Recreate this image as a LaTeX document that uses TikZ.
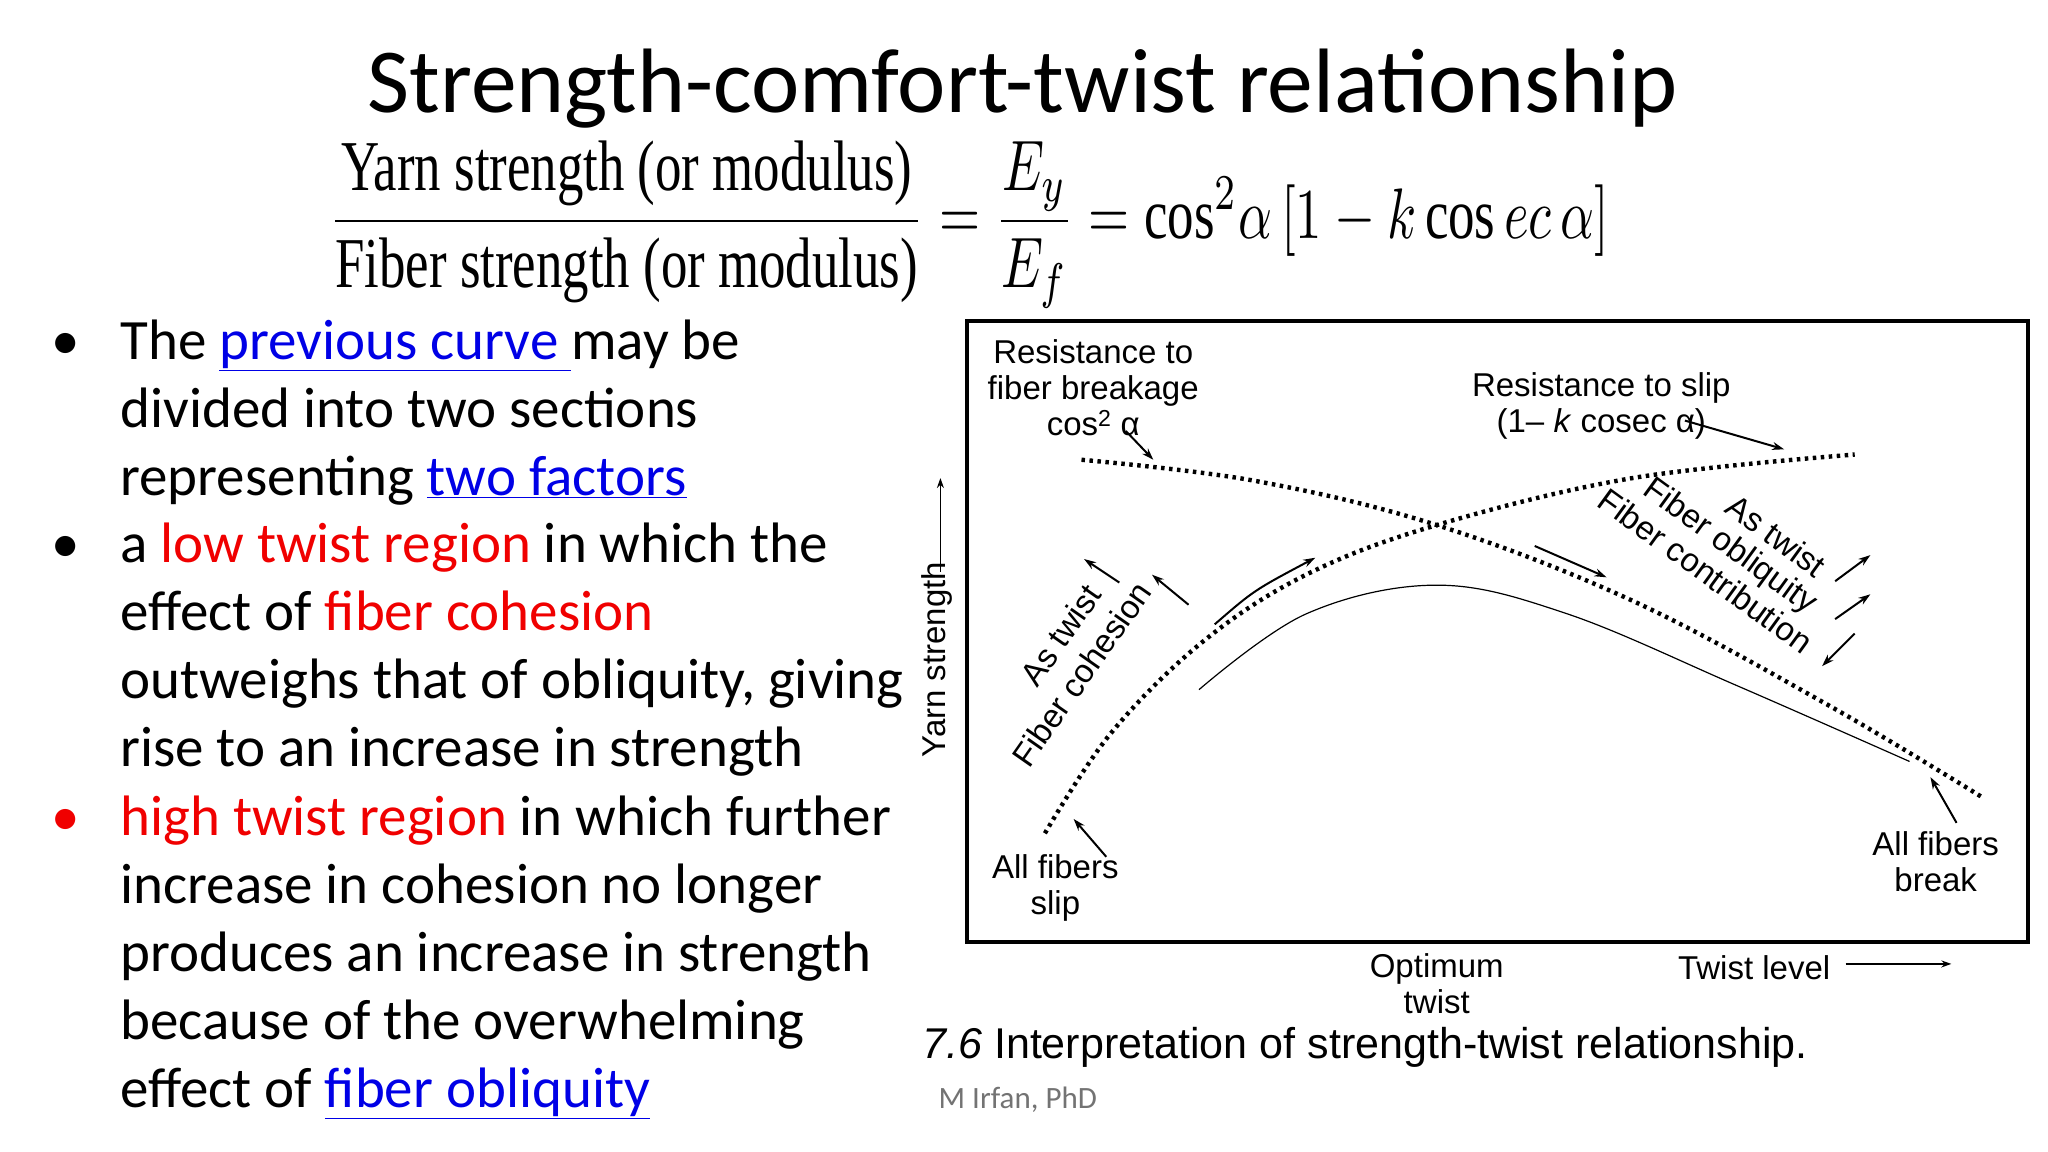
\documentclass[tikz,border=0pt]{standalone}
\usepackage{fontspec}
\usepackage{graphicx}
\setmainfont{Carlito}
\newfontfamily\chartfont{Liberation Sans}
\newfontfamily\eqfont{Liberation Serif}
\usetikzlibrary{arrows.meta}
\definecolor{lnk}{RGB}{0,0,230}
\definecolor{hot}{RGB}{240,0,0}
\newcommand{\lk}[1]{\textcolor{lnk}{\underline{#1}}}
\newcommand{\hr}[1]{\textcolor{hot}{#1}}
\newcommand{\et}[1]{\mbox{\eqfont #1}}
\tikzset{
  bl/.style={anchor=base west,inner sep=0pt,font=\fontsize{57}{68}\selectfont},
  bul/.style={anchor=base,inner sep=0pt,font=\fontsize{57}{68}\selectfont},
  ct/.style={font=\chartfont\fontsize{33}{36}\selectfont,inner sep=0pt,align=center},
  dot/.style={line width=4.4pt,dash pattern=on 3.5pt off 4.5pt},
  arr/.style={-{Stealth[length=12pt,width=8pt]},line width=2pt},
}
\begin{document}
\begin{tikzpicture}[x=1.306pt,y=-1.306pt]
\useasboundingbox[fill=white] (0,0) rectangle (1568,882);
\node (title) at (783,68) {\fontsize{91.5}{100}\selectfont Strength-comfort-twist relationship};
\node (eq) at (742,172) {\resizebox{1280pt}{98pt}{$\displaystyle\frac{\et{Yarn strength (or modulus)}}{\et{Fiber strength (or modulus)}}=\frac{E_y}{E_f}=\et{cos}^2\alpha\,[1-k\,\et{cos}\,ec\,\alpha]$}};
% bullets
\node[bul] (b1) at (50,275) {\textbullet};
\node[bul] (b4) at (50,431) {\textbullet};
\node[bul,text=hot] (b8) at (50,640) {\textbullet};
\node[bl] (l1) at (92,275) {The \lk{previous curve }may be};
\node[bl] (l2) at (92,327) {divided into two sections};
\node[bl] (l3) at (92,379) {representing \lk{two factors}};
\node[bl] (l4) at (92,431) {a \hr{low twist region} in which the};
\node[bl] (l5) at (92,483) {effect of \hr{fiber cohesion}};
\node[bl] (l6) at (92,535) {outweighs that of obliquity, giving};
\node[bl] (l7) at (92,587) {rise to an increase in strength};
\node[bl] (l8) at (92,640) {\hr{high twist region} in which further};
\node[bl] (l9) at (92,692) {increase in cohesion no longer};
\node[bl] (l10) at (92,744) {produces an increase in strength};
\node[bl] (l11) at (92,796) {because of the overwhelming};
\node[bl] (l12) at (92,848) {effect of \lk{fiber obliquity}};
\node[anchor=west,text=black!55,font=\fontsize{31}{32}\selectfont] (sig) at (716,842) {M Irfan, PhD};
% chart box
\draw[line width=4pt] (740,246) rectangle (1553,721);
\node[ct] (rb) at (837,297) {Resistance to\\fiber breakage\\cos\textsuperscript{2} α};
\node[ct] (rs) at (1226,311) {Resistance to slip\\(1– \textit{k} cosec α)};
% curves
\draw[dot] plot[smooth,tension=0.6] coordinates {(828,352) (960,368) (1100,402) (1250,460) (1400,540) (1517,610)};
\draw[dot] plot[smooth,tension=0.6] coordinates {(800,638) (850,562) (920,492) (1000,440) (1100,402) (1250,366) (1420,348)};
\draw[line width=1.2pt] plot[smooth,tension=0.6] coordinates {(918,528) (1000,470) (1100,448) (1200,470) (1330,525) (1462,583)};
% arrows
\draw[arr] (862,330) -- (883,352);
\draw[arr] (1290,322) -- (1366,344);
\draw[arr] (857,446) -- (830,428);
\draw[arr] (910,463) -- (882,440);
\draw[arr] (930,478) .. controls (960,452) .. (1007,427);
\draw[arr] (1175,418) -- (1230,442);
\draw[arr] (1405,445) -- (1432,425);
\draw[arr] (1405,474) -- (1432,455);
\draw[arr] (1420,485) -- (1395,510);
\draw[arr] (847,656) -- (822,627);
\draw[arr] (1498,630) -- (1478,595);
% rotated labels
\node[ct,rotate=55] (lt1) at (812,486) {As twist};
\node[ct,rotate=55] (lt2) at (828,516) {Fiber cohesion};
\node[ct,rotate=-36] (rt1) at (1360,410) {As twist};
\node[ct,rotate=-36] (rt2) at (1324,419) {Fiber obliquity};
\node[ct,rotate=-36] (rt3) at (1306,437) {Fiber contribution};
\node[ct] (slip) at (808,680) {All fibers\\slip};
\node[ct] (brk) at (1482,660) {All fibers\\break};
\node[ct,rotate=90] (ys) at (717,505) {Yarn strength};
\draw[line width=1.5pt,-{Stealth[length=10pt,width=7pt]}] (720,438) -- (720,366);
\node[ct] (opt) at (1100,753) {Optimum\\twist};
\node[ct] (tl) at (1343,741) {Twist level};
\draw[line width=1.5pt,-{Stealth[length=10pt,width=7pt]}] (1413,738) -- (1494,738);
\node[anchor=west,inner sep=0pt] (cap) at (706,802) {\resizebox{885pt}{!}{\chartfont\textit{7.6} Interpretation of strength-twist relationship.}};
\end{tikzpicture}
\end{document}
